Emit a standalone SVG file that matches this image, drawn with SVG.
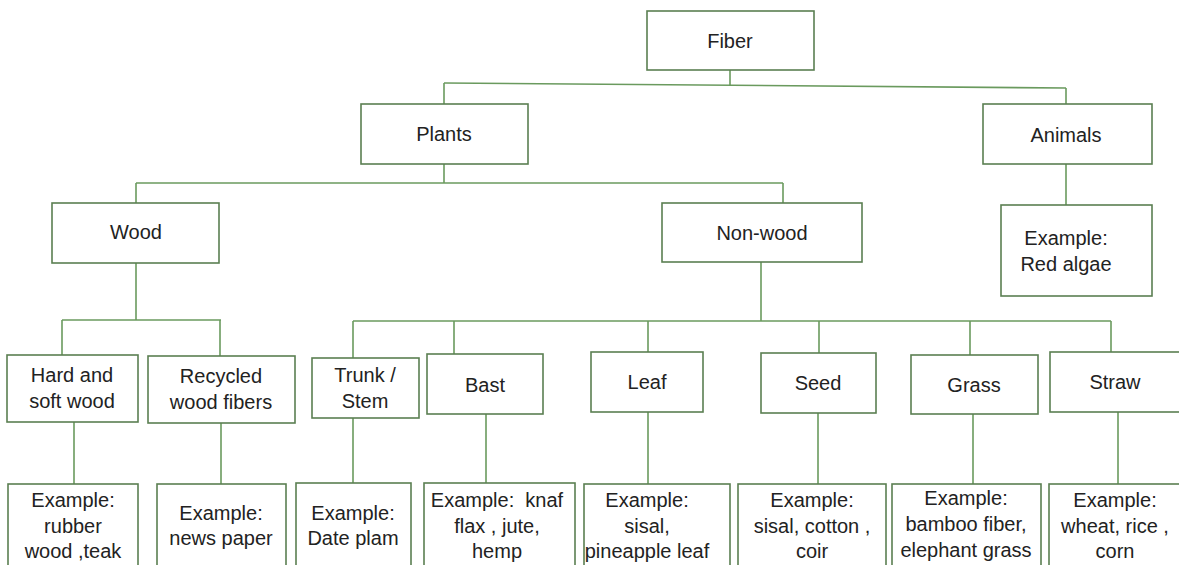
<svg xmlns="http://www.w3.org/2000/svg" width="1179" height="565" viewBox="0 0 1179 565">
<style>
.box{fill:#ffffff;stroke:#5b7f52;stroke-width:1.6}
.ln{fill:none;stroke:#6a9a5e;stroke-width:1.6}
text{font-family:"Liberation Sans",Arial,sans-serif;font-size:20px;fill:#222222;text-anchor:middle}
</style>
<rect width="1179" height="565" fill="#ffffff"/>
<g id="connectors">
<path class="ln" d="M444,83 L1066,88"/>
<path class="ln" d="M730,70 L730,86"/>
<path class="ln" d="M444,83 L444,104"/>
<path class="ln" d="M1066,88 L1066,104"/>
<path class="ln" d="M444,164 L444,183"/>
<path class="ln" d="M136,183 L783,183"/>
<path class="ln" d="M136,183 L136,203"/>
<path class="ln" d="M783,183 L783,203"/>
<path class="ln" d="M1066,164 L1066,205"/>
<path class="ln" d="M136,263 L136,320"/>
<path class="ln" d="M62,320 L221,320"/>
<path class="ln" d="M62,320 L62,355"/>
<path class="ln" d="M220,320 L220,356"/>
<path class="ln" d="M761,262 L761,321"/>
<path class="ln" d="M353,321 L1111,321"/>
<path class="ln" d="M353,321 L353,358"/>
<path class="ln" d="M454,321 L454,354"/>
<path class="ln" d="M648,321 L648,352"/>
<path class="ln" d="M819,321 L819,353"/>
<path class="ln" d="M970,321 L970,355"/>
<path class="ln" d="M1111,321 L1111,352"/>
<path class="ln" d="M74,422 L74,484"/>
<path class="ln" d="M221,423 L221,484"/>
<path class="ln" d="M353,418 L353,483"/>
<path class="ln" d="M486,414 L486,483"/>
<path class="ln" d="M648,412 L648,484"/>
<path class="ln" d="M818,413 L818,484"/>
<path class="ln" d="M973,414 L973,484"/>
<path class="ln" d="M1118,412 L1118,484"/>
</g>
<g id="fiber"><rect class="box" x="647" y="11" width="167" height="59"/><text x="730" y="48">Fiber</text></g>
<g id="plants"><rect class="box" x="361" y="104" width="167" height="60"/><text x="444" y="141">Plants</text></g>
<g id="animals"><rect class="box" x="983" y="104" width="169" height="60"/><text x="1066" y="142">Animals</text></g>
<g id="wood"><rect class="box" x="52" y="203" width="167" height="60"/><text x="136" y="239">Wood</text></g>
<g id="nonwood"><rect class="box" x="662" y="203" width="200" height="59"/><text x="762" y="240">Non-wood</text></g>
<g id="animals-ex"><rect class="box" x="1001" y="205" width="151" height="91"/><text x="1066" y="245">Example:</text><text x="1066" y="271">Red algae</text></g>
<g id="hardsoft"><rect class="box" x="7" y="355" width="131" height="67"/><text x="72" y="382">Hard and</text><text x="72" y="408">soft wood</text></g>
<g id="recycled"><rect class="box" x="148" y="356" width="147" height="67"/><text x="221" y="383">Recycled</text><text x="221" y="409">wood fibers</text></g>
<g id="trunk"><rect class="box" x="312" y="358" width="107" height="60"/><text x="365" y="382">Trunk /</text><text x="365" y="408">Stem</text></g>
<g id="bast"><rect class="box" x="427" y="354" width="116" height="60"/><text x="485" y="392">Bast</text></g>
<g id="leaf"><rect class="box" x="591" y="352" width="112" height="60"/><text x="647" y="389">Leaf</text></g>
<g id="seed"><rect class="box" x="761" y="353" width="115" height="60"/><text x="818" y="390">Seed</text></g>
<g id="grass"><rect class="box" x="911" y="355" width="127" height="59"/><text x="974" y="392">Grass</text></g>
<g id="straw"><rect class="box" x="1050" y="352" width="132" height="60"/><text x="1115" y="389">Straw</text></g>
<g id="hardsoft-ex"><rect class="box" x="8" y="484" width="130" height="90"/><text x="73" y="507">Example:</text><text x="73" y="533">rubber</text><text x="73" y="558">wood ,teak</text></g>
<g id="recycled-ex"><rect class="box" x="157" y="484" width="129" height="90"/><text x="221" y="520">Example:</text><text x="221" y="545">news paper</text></g>
<g id="trunk-ex"><rect class="box" x="296" y="483" width="115" height="90"/><text x="353" y="520">Example:</text><text x="353" y="545">Date plam</text></g>
<g id="bast-ex"><rect class="box" x="424" y="483" width="151" height="90"/><text x="497" y="507" xml:space="preserve">Example:  knaf</text><text x="497" y="533">flax , jute,</text><text x="497" y="558">hemp</text></g>
<g id="leaf-ex"><rect class="box" x="584" y="484" width="146" height="90"/><text x="647" y="507">Example:</text><text x="647" y="533">sisal,</text><text x="647" y="558">pineapple leaf</text></g>
<g id="seed-ex"><rect class="box" x="738" y="484" width="148" height="90"/><text x="812" y="507">Example:</text><text x="812" y="533">sisal, cotton ,</text><text x="812" y="558">coir</text></g>
<g id="grass-ex"><rect class="box" x="892" y="484" width="149" height="90"/><text x="966" y="505">Example:</text><text x="966" y="531">bamboo fiber,</text><text x="966" y="557">elephant grass</text></g>
<g id="straw-ex"><rect class="box" x="1049" y="484" width="133" height="90"/><text x="1115" y="507">Example:</text><text x="1115" y="533">wheat, rice ,</text><text x="1115" y="558">corn</text></g>
</svg>
